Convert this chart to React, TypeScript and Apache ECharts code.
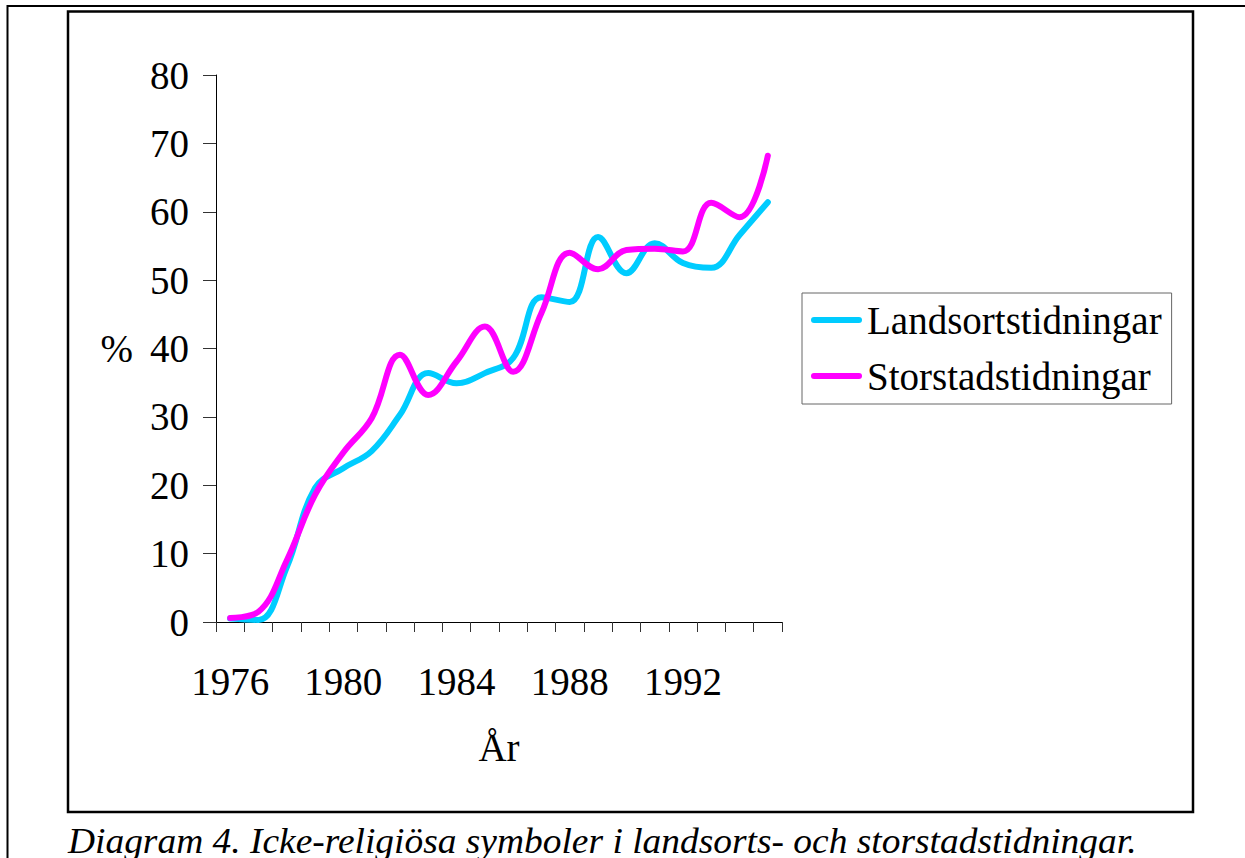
import React, { useEffect, useRef } from "react";
import * as echarts from "echarts";

const years = ["1976","1977","1978","1979","1980","1981","1982","1983","1984","1985","1986","1987","1988","1989","1990","1991","1992","1993","1994","1995"];
const landsort = [0.5, 0.3, 8.0, 19.6, 22.5, 25.0, 30.3, 36.4, 34.9, 36.4, 38.6, 47.5, 46.8, 56.3, 51.0, 55.4, 52.5, 51.8, 56.6, 61.4];
const storstad = [0.6, 1.5, 9.0, 18.6, 24.8, 29.8, 39.1, 33.2, 38.1, 43.2, 36.6, 45.2, 54.0, 51.6, 54.4, 54.6, 54.2, 61.3, 59.2, 68.2];
const seriesNames = ["Landsortstidningar", "Storstadstidningar"];
const colors = ["#00CCFF", "#FF00FF"];
const caption = "Diagram 4. Icke-religiösa symboler i landsorts- och storstadstidningar.";

const FONT = '"Liberation Serif", "Times New Roman", serif';

export default function App() {
  const ref = useRef<HTMLDivElement>(null);
  useEffect(() => {
    if (!ref.current) return;
    const chart = echarts.init(ref.current, undefined, { renderer: "svg" });
    const legendIcon = "path://M3,0 L48,0 A3,3 0 0 1 48,6 L3,6 A3,3 0 0 1 3,0 Z";
    chart.setOption({
      animation: false,
      backgroundColor: "#ffffff",
      grid: { left: 216, top: 75, width: 566, height: 547, containLabel: false },
      xAxis: {
        type: "category",
        data: years,
        boundaryGap: true,
        name: "År",
        nameLocation: "middle",
        nameGap: 106,
        nameTextStyle: { fontFamily: FONT, fontSize: 39, color: "#000" },
        axisLine: { lineStyle: { color: "#000", width: 1 } },
        axisTick: { show: true, interval: 0, length: 10, lineStyle: { color: "#333", width: 1 } },
        axisLabel: { interval: 3, margin: 40, fontFamily: FONT, fontSize: 39, color: "#000" },
        splitLine: { show: false },
      },
      yAxis: {
        type: "value",
        min: 0,
        max: 80,
        interval: 10,
        name: "%",
        nameLocation: "middle",
        nameRotate: 0,
        nameGap: 83,
        nameTextStyle: { fontFamily: FONT, fontSize: 39, color: "#000", align: "right" },
        axisLine: { show: true, lineStyle: { color: "#000", width: 1 } },
        axisTick: { show: true, length: 13, lineStyle: { color: "#333", width: 1 } },
        axisLabel: { margin: 27, fontFamily: FONT, fontSize: 39, color: "#000" },
        splitLine: { show: false },
      },
      legend: {
        orient: "vertical",
        left: 802,
        top: 293,
        data: seriesNames,
        icon: legendIcon,
        itemWidth: 51,
        itemHeight: 6,
        itemGap: 10,
        padding: [4, 10, 5, 9],
        borderColor: "#666",
        borderWidth: 1,
        textStyle: { fontFamily: FONT, fontSize: 39, color: "#000", lineHeight: 46, padding: [0, 0, 0, 0] },
      },
      series: [
        {
          name: seriesNames[0],
          type: "line",
          data: landsort,
          smooth: 0.4,
          symbol: "none",
          lineStyle: { color: colors[0], width: 6, cap: "round", join: "round" },
          itemStyle: { color: colors[0] },
        },
        {
          name: seriesNames[1],
          type: "line",
          data: storstad,
          smooth: 0.4,
          symbol: "none",
          lineStyle: { color: colors[1], width: 6, cap: "round", join: "round" },
          itemStyle: { color: colors[1] },
        },
      ],
      graphic: [
        {
          type: "polyline",
          silent: true,
          shape: { points: [[7.5, 858], [7.5, 6], [1245, 6]] },
          style: { stroke: "#000", lineWidth: 2, fill: null },
        },
        {
          type: "rect",
          silent: true,
          shape: { x: 68, y: 11.5, width: 1125, height: 800.5 },
          style: { stroke: "#000", lineWidth: 2.5, fill: null },
        },
        {
          type: "text",
          silent: true,
          x: 68,
          y: 841,
          scaleX: 1.04,
          style: {
            text: caption,
            fontFamily: FONT,
            fontStyle: "italic",
            fontSize: 36,
            fill: "#000",
            verticalAlign: "middle",
            align: "left",
          },
        },
      ],
    });
    return () => chart.dispose();
  }, []);
  return (
    <div
      ref={ref}
      style={{ position: "fixed", left: 0, top: 0, width: 1245, height: 858, background: "#fff" }}
    />
  );
}
